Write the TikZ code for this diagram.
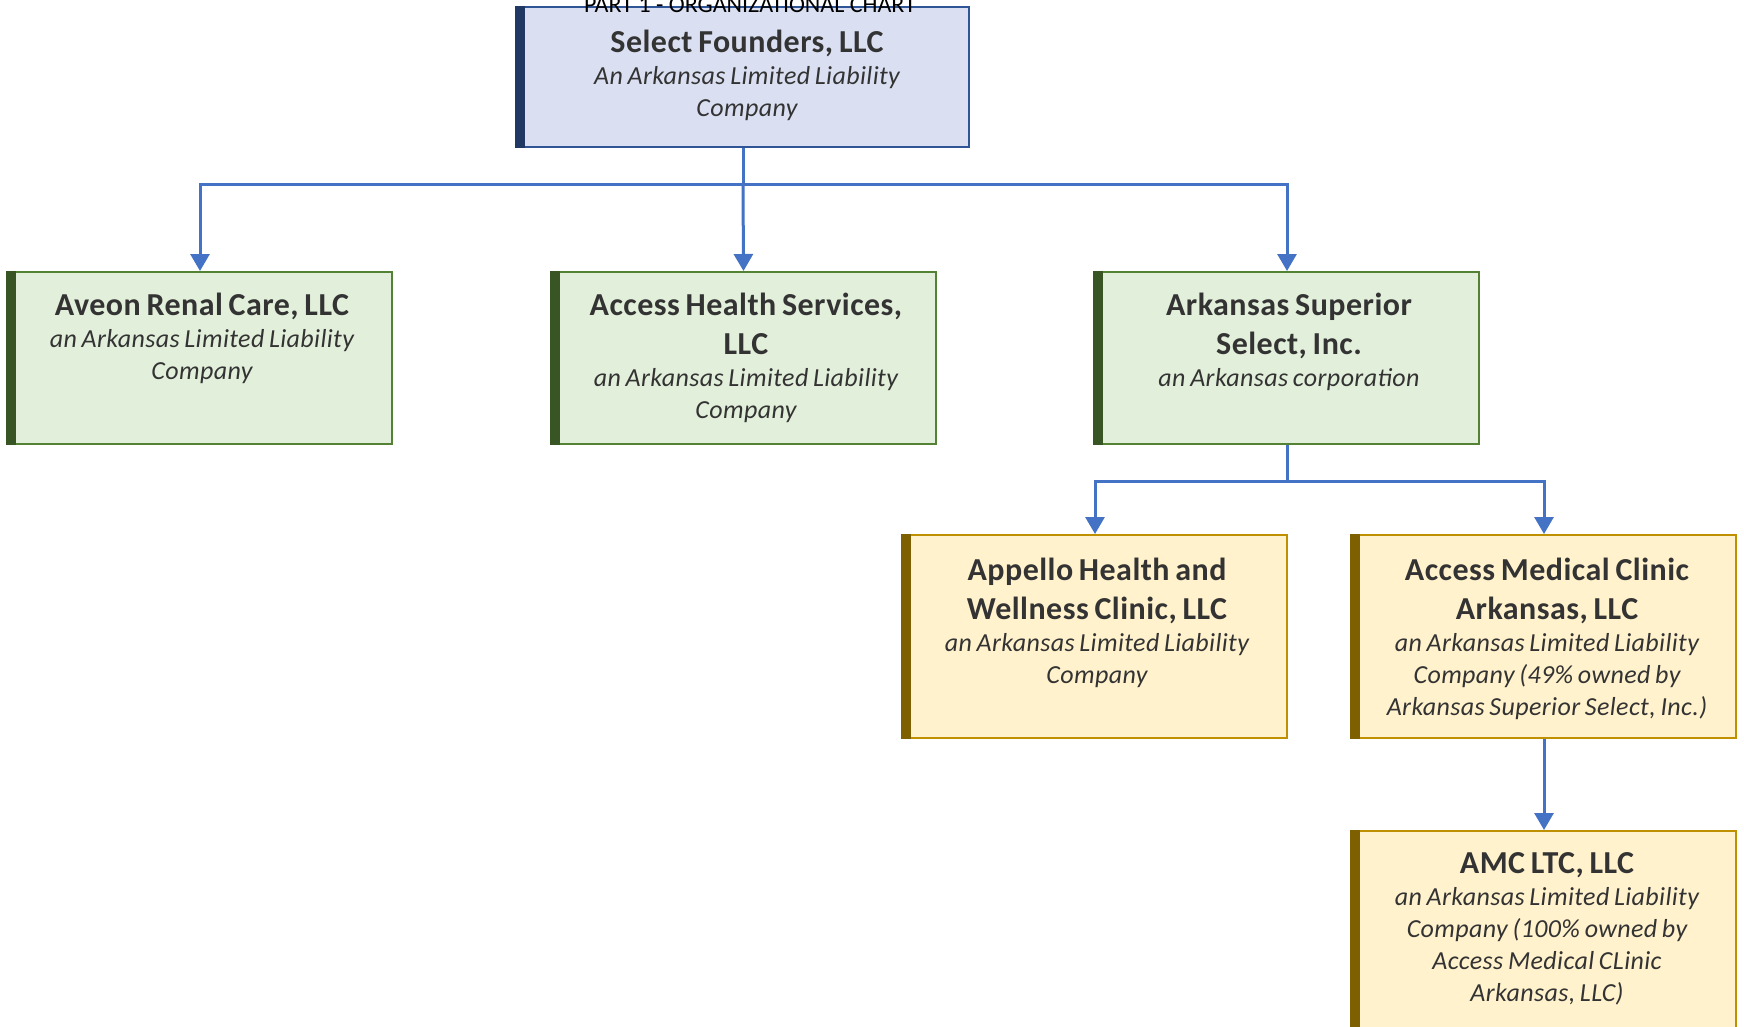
\documentclass[tikz,border=0pt]{standalone}
\usepackage{fontspec}
\setmainfont{Carlito}
\newfontfamily\orgfont{Carlito}[LetterSpace=1.5]
\usetikzlibrary{arrows.meta}
\definecolor{conncol}{HTML}{4472C4}
\definecolor{txtcol}{HTML}{333333}
\definecolor{bluefill}{HTML}{DAE0F2}
\definecolor{blueborder}{HTML}{2F5597}
\definecolor{bluebar}{HTML}{203864}
\definecolor{greenfill}{HTML}{E2EFDA}
\definecolor{greenborder}{HTML}{548235}
\definecolor{greenbar}{HTML}{375623}
\definecolor{yellowfill}{HTML}{FFF2CC}
\definecolor{yellowborder}{HTML}{BF9000}
\definecolor{yellowbar}{HTML}{7F6000}
\tikzset{
  orgbox/.style={rectangle, draw, line width=2pt, inner sep=0pt, minimum width=384pt},
  bluebox/.style={orgbox, fill=bluefill, draw=blueborder},
  greenbox/.style={orgbox, fill=greenfill, draw=greenborder, minimum height=172pt},
  yellowbox/.style={orgbox, fill=yellowfill, draw=yellowborder},
  lbl/.style={anchor=base, inner sep=0pt, text width=430pt, align=center, text=txtcol, font=\orgfont},
  link/.style={draw=conncol, line width=3pt, -{Triangle[width=19pt,length=17pt]}},
  plain/.style={draw=conncol, line width=3pt}
}
\newcommand{\orghead}[1]{{\fontsize{32}{39}\selectfont\bfseries\spaceskip=0.18em\relax #1\par}}
\newcommand{\orgsub}[1]{{\fontsize{26}{32}\selectfont\itshape\spaceskip=0.18em\relax #1\par}}
\newcommand{\orgbar}[2]{\fill[fill=#2] ([xshift=-1pt]#1.north west) rectangle ([xshift=9pt]#1.south west);}
\begin{document}
\begin{tikzpicture}[x=1pt,y=-1pt]
\useasboundingbox (0,0) rectangle (1744,1026);
% boxes
\node[bluebox, minimum width=452pt, minimum height=140pt] (top) at (743,77) {};
\node[greenbox] (aveon) at (200,358) {};
\node[greenbox] (ahs) at (743.5,358) {};
\node[greenbox] (ass) at (1287,358) {};
\node[yellowbox, minimum height=203pt] (appello) at (1095,636.5) {};
\node[yellowbox, minimum height=203pt] (amca) at (1544,636.5) {};
\node[yellowbox, minimum height=200pt] (amc) at (1544,931) {};
\orgbar{top}{bluebar}
\orgbar{aveon}{greenbar}
\orgbar{ahs}{greenbar}
\orgbar{ass}{greenbar}
\orgbar{appello}{yellowbar}
\orgbar{amca}{yellowbar}
\orgbar{amc}{yellowbar}
% labels
\node[lbl] (ttop) at (747,52) {\orghead{Select Founders, LLC}\orgsub{An Arkansas Limited Liability\\Company}};
\node[lbl] (taveon) at (202,315) {\orghead{Aveon Renal Care, LLC}\orgsub{an Arkansas Limited Liability\\Company}};
\node[lbl] (tahs) at (746,315) {\orghead{Access Health Services,\\LLC}\orgsub{an Arkansas Limited Liability\\Company}};
\node[lbl] (tass) at (1289,315) {\orghead{Arkansas Superior\\Select, Inc.}\orgsub{an Arkansas corporation}};
\node[lbl] (tappello) at (1097,580) {\orghead{Appello Health and\\Wellness Clinic, LLC}\orgsub{an Arkansas Limited Liability\\Company}};
\node[lbl] (tamca) at (1547,580) {\orghead{Access Medical Clinic\\Arkansas, LLC}\orgsub{an Arkansas Limited Liability\\Company (49\% owned by\\Arkansas Superior Select, Inc.)}};
\node[lbl] (tamc) at (1547,873) {\orghead{AMC LTC, LLC}\orgsub{an Arkansas Limited Liability\\Company (100\% owned by\\Access Medical CLinic\\Arkansas, LLC)}};
% connectors
\coordinate (j1) at (743,184);
\coordinate (j2) at (1287,481);
\draw[plain] (top.south) -- (j1);
\draw[link] (j1) -| (aveon.north);
\draw[link] (j1) -- (ahs.north);
\draw[link] (j1) -| (ass.north);
\draw[plain] (ass.south) -- (j2);
\draw[link] (j2) -| (appello.north);
\draw[link] (j2) -| (amca.north);
\draw[link] (amca.south) -- (amc.north);
% title
\node[anchor=base, inner sep=0pt, font=\fontsize{24}{28}\selectfont] (title) at (750,12) {PART 1 - ORGANIZATIONAL CHART};
\end{tikzpicture}
\end{document}
